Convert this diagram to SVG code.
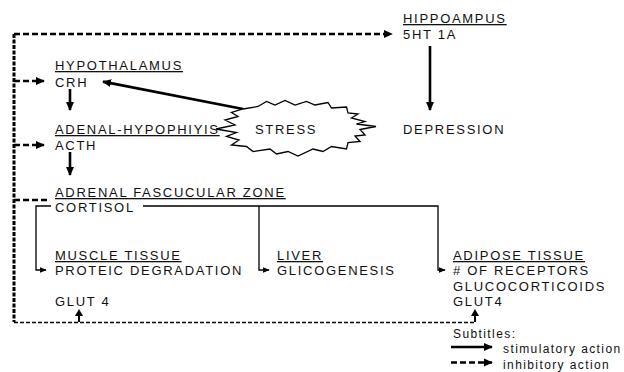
<svg xmlns="http://www.w3.org/2000/svg" width="624" height="372" viewBox="0 0 624 372">
<defs>
<style>
text{font-family:"Liberation Sans",Arial,sans-serif;font-size:13px;letter-spacing:1.7px;fill:#111}
.u{text-decoration:underline}
.lg{font-size:12px;letter-spacing:1.4px}
.thick{stroke:#000;stroke-width:2.6;fill:none}
.dash{stroke:#000;stroke-width:2.6;fill:none;stroke-dasharray:6 3}
.vdash{stroke:#000;stroke-width:3;fill:none;stroke-dasharray:4 1.5}
.bdash{stroke:#000;stroke-width:1.5;fill:none;stroke-dasharray:4 2}
.thin{stroke:#000;stroke-width:1.3;fill:none}
.up{stroke:#000;stroke-width:2;fill:none}
</style>
<marker id="ahs" viewBox="0 0 10 10" refX="9" refY="5" markerWidth="7" markerHeight="7" orient="auto" markerUnits="userSpaceOnUse"><path d="M0,1L10,5L0,9z" fill="#000"/></marker>
<marker id="ahb" viewBox="0 0 10 10" refX="9" refY="5" markerWidth="9" markerHeight="9" orient="auto" markerUnits="userSpaceOnUse"><path d="M0,0.5L10,5L0,9.5z" fill="#000"/></marker>
</defs>
<rect width="624" height="372" fill="#fff"/>

<g id="connectors">
<path class="vdash" d="M14,34V322"/>
<path class="dash" d="M14,34H392" marker-end="url(#ahb)"/>
<path class="dash" d="M14,81H44" marker-end="url(#ahb)"/>
<path class="dash" d="M14,145H44" marker-end="url(#ahb)"/>
<path class="dash" d="M14,200H50"/>
<path class="bdash" d="M14,322.5H475"/>
<path class="thick" d="M70,89V110" marker-end="url(#ahb)"/>
<path class="thick" d="M70,152V175" marker-end="url(#ahb)"/>
<path class="thick" d="M243,109L103,81.6" marker-end="url(#ahb)"/>
<path class="thick" d="M430,46V110" marker-end="url(#ahb)"/>
<path class="thin" d="M51,206H36V270H46" marker-end="url(#ahs)"/>
<path class="thin" d="M143,206H438V270H445" marker-end="url(#ahs)"/>
<path class="thin" d="M259,206V270H269" marker-end="url(#ahs)"/>
<path class="up" d="M79,322V314"/>
<path d="M75,316L79,309L83,316Z" fill="#000"/>
<path class="up" d="M475,322V314"/>
<path d="M471,316L475,309L479,316Z" fill="#000"/>
</g>

<g id="hippocampus">
<text x="403" y="23" class="u">HIPPOAMPUS</text>
<text x="403" y="39">5HT 1A</text>
</g>
<g id="depression">
<text x="403" y="134">DEPRESSION</text>
</g>
<g id="hypothalamus">
<text x="55" y="70" class="u">HYPOTHALAMUS</text>
<text x="55" y="87">CRH</text>
</g>
<g id="adenal-hypophiyis">
<text x="55" y="134" class="u">ADENAL-HYPOPHIYIS</text>
<text x="55" y="150">ACTH</text>
</g>
<g id="stress">
<path d="M243,109L258,106.5L266.5,101.5L275,105L285,100.5L295,105L306.5,101.5L315,105L328,102.5L331.5,108L346.5,107L348,113L358,114L351.5,118L365,121.5L356.5,124L376,126.5L360,129.5L365,135L355,136L360,141.5L348,142.5L346.5,149L331.5,146.5L323,151.5L313,149L298,156L288,151.5L276.5,154L270,149L253,151.5L246.5,146.5L231.5,145L239,140L226.5,136.5L236.5,132.5L216,129L235,125L225,120L238,116.5L231.5,112.5Z" fill="#fff" stroke="#000" stroke-width="1.3"/>
<text x="255" y="134">STRESS</text>
</g>
<g id="adrenal-zone">
<text x="55" y="197" class="u">ADRENAL FASCUCULAR ZONE</text>
<text x="55" y="212">CORTISOL</text>
</g>
<g id="muscle">
<text x="55" y="260" class="u">MUSCLE TISSUE</text>
<text x="55" y="275">PROTEIC DEGRADATION</text>
<text x="55" y="306">GLUT 4</text>
</g>
<g id="liver">
<text x="277" y="260" class="u">LIVER</text>
<text x="277" y="275">GLICOGENESIS</text>
</g>
<g id="adipose">
<text x="453" y="260" class="u">ADIPOSE TISSUE</text>
<text x="453" y="275"># OF RECEPTORS</text>
<text x="453" y="291">GLUCOCORTICOIDS</text>
<text x="453" y="306">GLUT4</text>
</g>
<g id="legend">
<text x="453" y="338" class="lg">Subtitles:</text>
<path class="thick" d="M451,347H492" marker-end="url(#ahb)"/>
<text x="503" y="353" class="lg">stimulatory action</text>
<path class="dash" d="M451,362.5H492" marker-end="url(#ahb)"/>
<text x="503" y="369" class="lg">inhibitory action</text>
</g>
</svg>
